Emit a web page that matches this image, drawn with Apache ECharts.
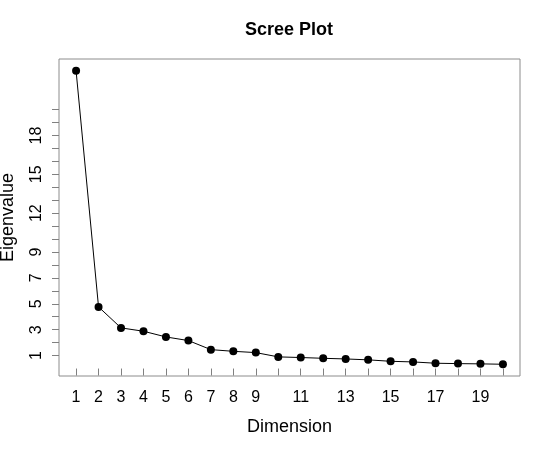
<!DOCTYPE html>
<html>
<head>
<meta charset="utf-8">
<script src="https://cdn.jsdelivr.net/npm/echarts@6/dist/echarts.min.js"></script>
<style>html,body{margin:0;padding:0;background:#fff}#c{width:550px;height:450px}</style>
</head>
<body>
<div id="c"></div>
<script>
const dimensions = [1,2,3,4,5,6,7,8,9,10,11,12,13,14,15,16,17,18,19,20];
const eigenvalues = [23.0, 4.76, 3.14, 2.88, 2.44, 2.16, 1.46, 1.33, 1.23, 0.90, 0.85, 0.79, 0.74, 0.67, 0.56, 0.51, 0.41, 0.38, 0.36, 0.33];
const xTicks = [1,2,3,4,5,6,7,8,9,10,11,12,13,14,15,16,17,18,19,20];
const xTickLabels = [1,2,3,4,5,6,7,8,9,11,13,15,17,19];
const yTicks = [1,2,3,4,5,6,7,8,9,10,11,12,13,14,15,16,17,18,19,20];
const yTickLabels = [1,3,5,7,9,12,15,18];

const font = '"Liberation Sans", Arial, sans-serif';
const chart = echarts.init(document.getElementById('c'), null, {renderer: 'canvas'});
const ymin = Math.min(...eigenvalues), ymax = Math.max(...eigenvalues);
const ypad = (ymax - ymin) * 0.04;
const xpad = (dimensions[dimensions.length-1] - dimensions[0]) * 0.04;
chart.setOption({
  animation: false,
  backgroundColor: '#fff',
  title: {
    text: 'Scree Plot',
    left: 245, top: 21, padding: 0,
    textStyle: {fontFamily: font, fontSize: 18, fontWeight: 'bold', color: '#000'}
  },
  grid: {left: 59, right: 30, top: 59, bottom: 74, containLabel: false, outerBoundsMode: 'none', show: true, borderColor: '#8c8c8c', borderWidth: 1, backgroundColor: 'transparent'},
  xAxis: {
    type: 'value',
    min: dimensions[0] - xpad, max: dimensions[dimensions.length-1] + xpad,
    name: 'Dimension', nameLocation: 'middle', nameGap: 42,
    nameTextStyle: {fontFamily: font, fontSize: 18, color: '#000'},
    axisLine: {show: false},
    splitLine: {show: false},
    axisTick: {show: true, customValues: xTicks, length: 7, inside: false, lineStyle: {color: '#808080'}},
    axisLabel: {customValues: xTickLabels, fontFamily: font, fontSize: 16, color: '#000', margin: 14}
  },
  yAxis: {
    type: 'value',
    min: ymin - ypad, max: ymax + ypad,
    name: 'Eigenvalue', nameLocation: 'middle', nameGap: 42,
    nameTextStyle: {fontFamily: font, fontSize: 18, color: '#000'},
    axisLine: {show: false},
    splitLine: {show: false},
    axisTick: {show: true, customValues: yTicks, length: 7, lineStyle: {color: '#808080'}},
    axisLabel: {customValues: yTickLabels, rotate: 90, fontFamily: font, fontSize: 16, color: '#000', margin: 14}
  },
  series: [{
    type: 'line',
    data: dimensions.map((d, i) => [d, eigenvalues[i]]),
    symbol: 'circle', symbolSize: 8,
    lineStyle: {color: '#000', width: 1},
    itemStyle: {color: '#000'}
  }]
});
</script>
</body>
</html>
